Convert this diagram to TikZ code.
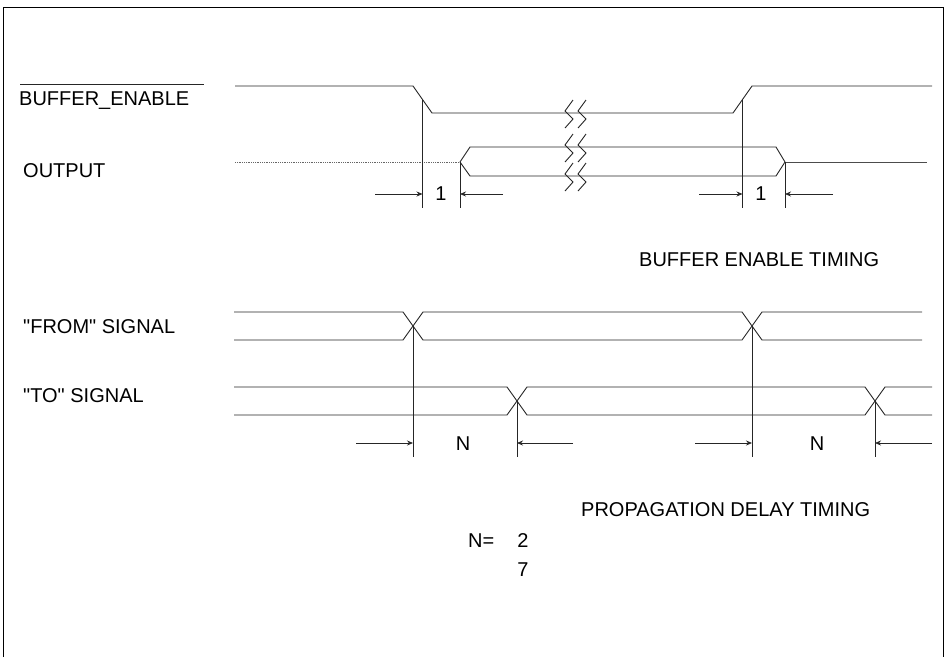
\documentclass[tikz,border=0pt]{standalone}
\usepackage{fontspec}
\setmainfont{Liberation Sans}
\usetikzlibrary{arrows.meta}

\tikzset{
  sig/.style={line width=0.9pt, black!85},
  hiz/.style={line width=0.8pt, black!60, densely dotted},
  refline/.style={line width=0.8pt, black!85},
  dim/.style={line width=0.8pt, black!85, -{Stealth[length=6pt,width=5pt]}},
  lbl/.style={anchor=base west, inner sep=0pt, font=\fontsize{20}{24}\selectfont},
  val/.style={anchor=base, inner sep=0pt, font=\fontsize{20}{24}\selectfont},
}

\begin{document}
\begin{tikzpicture}[x=1pt,y=-1pt]
\useasboundingbox (0,0) rectangle (947,657);
\draw[line width=1pt] (3,657) -- (3,7) -- (943,7) -- (943,657);

% buffer enable timing
\node[lbl] (be) at (19,105) {BUFFER\_ENABLE};
\draw[refline] (be.base west) ++(1,-21) -- ++(184,0);
\node[lbl] (out) at (23,177) {OUTPUT};

\draw[sig] (235,86) -- (413,86) -- (432,113) -- (733,113) -- (752,86) -- (932,86);
\draw[hiz] (235,162) -- (460,162);
\draw[sig] (460,162) -- (470,147) -- (776,147) -- (785,162);
\draw[sig] (460,162) -- (470,176) -- (776,176) -- (785,162);
\draw[refline, black!70] (785,162) -- (927,162);
\foreach \y in {113,147,176}
  \foreach \x in {565,578}
    \draw[sig] (\x+8,\y-13) -- (\x,\y-2) -- (\x+8,\y+6) -- (\x,\y+15);

\coordinate (en1) at (422.5,99.5);
\coordinate (en2) at (742.5,99.5);
\coordinate (out1) at (460,162);
\coordinate (out2) at (785,162);
\foreach \c in {en1,en2,out1,out2}
  \draw[refline] (\c) -- (\c |- 0,208);

\draw[dim] (375,194) coordinate (a1) -- (en1 |- a1);
\draw[dim] (503,194) coordinate (b1) -- (out1 |- b1);
\draw[dim] (699,194) coordinate (a2) -- (en2 |- a2);
\draw[dim] (833,194) coordinate (b2) -- (out2 |- b2);
\node[val] (one1) at (441,200) {1};
\node[val] (one2) at (761,200) {1};

\node[lbl] (bet) at (639,266) {BUFFER ENABLE TIMING};

% propagation delay timing
\node[lbl] (from) at (23,333) {\textquotedbl FROM\textquotedbl\ SIGNAL};
\node[lbl] (to) at (23,402) {\textquotedbl TO\textquotedbl\ SIGNAL};

\draw[sig] (234,312) -- (403,312) -- (423,340) -- (742,340) -- (762,312) -- (922,312);
\draw[sig] (234,340) -- (403,340) -- (423,312) -- (742,312) -- (762,340) -- (922,340);
\draw[sig] (234,387) -- (507,387) -- (527,415) -- (865,415) -- (885,387) -- (932,387);
\draw[sig] (234,415) -- (507,415) -- (527,387) -- (865,387) -- (885,415) -- (932,415);

\coordinate (fr1) at (413,326);
\coordinate (fr2) at (752,326);
\coordinate (to1) at (517,401);
\coordinate (to2) at (875,401);
\foreach \c in {fr1,fr2,to1,to2}
  \draw[refline] (\c) -- (\c |- 0,457);

\draw[dim] (356,443) coordinate (c1) -- (fr1 |- c1);
\draw[dim] (573,443) coordinate (d1) -- (to1 |- d1);
\draw[dim] (695,443) coordinate (c2) -- (fr2 |- c2);
\draw[dim] (932,443) coordinate (d2) -- (to2 |- d2);
\node[val] (n1) at (463,450) {N};
\node[val] (n2) at (817,450) {N};

\node[lbl] (pdt) at (581,516) {PROPAGATION DELAY TIMING};
\node[lbl] (neq) at (468,547) {N=};
\node[val] (v2) at (523,547) {2};
\node[val] (v7) at (523,576) {7};
\end{tikzpicture}
\end{document}
